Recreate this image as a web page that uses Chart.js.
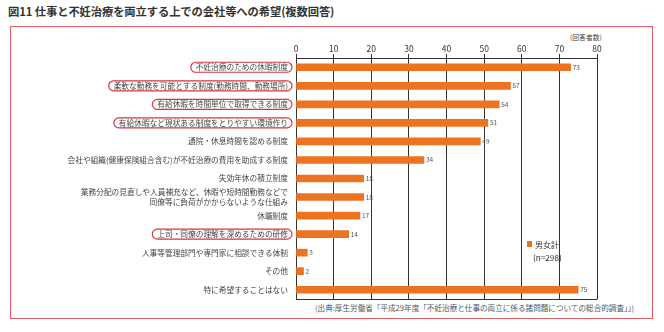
<!DOCTYPE html>
<html><head><meta charset="utf-8">
<script src="https://cdn.jsdelivr.net/npm/chart.js@4"></script>
<style>
html,body{margin:0;padding:0;background:#fff;}
#wrap{position:relative;width:664px;height:332px;overflow:hidden;font-family:"Noto Sans CJK JP","Noto Sans",sans-serif;}
#title{position:absolute;left:8px;top:3px;font-size:11.3px;font-weight:bold;color:#333;white-space:nowrap;letter-spacing:-0.1px;}
#frame{position:absolute;left:10px;top:26px;width:643px;height:293px;border:1.5px solid #E25C66;box-sizing:border-box;}
#src{position:absolute;left:315px;top:302px;font-size:7.6px;color:#555;white-space:nowrap;}
#unit{position:absolute;left:570px;top:32px;font-size:6.8px;color:#444;white-space:nowrap;}
canvas{position:absolute;left:0;top:0;}
</style></head>
<body><div id="wrap">
<div id="title">図11 仕事と不妊治療を両立する上での会社等への希望(複数回答)</div>
<div id="frame"></div>
<div id="unit">(回答者数)</div>
<div id="src">(出典:厚生労働省「平成29年度「不妊治療と仕事の両立に係る諸問題についての総合的調査」」)</div>
<canvas id="c" width="664" height="332"></canvas>
</div>
<script>
const categories = [
  "不妊治療のための休暇制度",
  "柔軟な勤務を可能とする制度(勤務時間、勤務場所)",
  "有給休暇を時間単位で取得できる制度",
  "有給休暇など現状ある制度をとりやすい環境作り",
  "通院・休息時間を認める制度",
  "会社や組織(健康保険組合含む)が不妊治療の費用を助成する制度",
  "失効年休の積立制度",
  ["業務分配の見直しや人員補充など、休暇や短時間勤務などで", "同僚等に負荷がかからないような仕組み"],
  "休職制度",
  "上司・同僚の理解を深めるための研修",
  "人事等管理部門や専門家に相談できる体制",
  "その他",
  "特に希望することはない"
];
const totalValues = [73, 57, 54, 51, 49, 34, 18, 18, 17, 14, 3, 2, 75];
const circledIndexes = [0, 1, 2, 3, 9];
const seriesName = "男女計";
const sampleNote = "(n=298)";
const xTicks = [0, 10, 20, 30, 40, 50, 60, 70, 80];

const FONT = '"Noto Sans CJK JP","Noto Sans",sans-serif';
const BAR = '#EE7321';

const extras = {
  id: 'extras',
  afterDraw(chart) {
    const ctx = chart.ctx, ca = chart.chartArea, ys = chart.scales.y;
    ctx.save();
    // bottom frame line
    ctx.strokeStyle = '#333'; ctx.lineWidth = 1;
    ctx.beginPath(); ctx.moveTo(ca.left, Math.round(ca.bottom) + 0.5); ctx.lineTo(ca.right + 0.5, Math.round(ca.bottom) + 0.5); ctx.stroke();
    // value labels
    const meta = chart.getDatasetMeta(0);
    ctx.font = '6.5px ' + FONT; ctx.fillStyle = '#555'; ctx.textBaseline = 'middle'; ctx.textAlign = 'left';
    meta.data.forEach((el, i) => { ctx.fillText(String(totalValues[i]), el.x + 2, el.y); });
    // circled labels
    ctx.font = '7.7px ' + FONT;
    ctx.strokeStyle = '#D8333F'; ctx.lineWidth = 1.2;
    const rightX = ys.right - 8;
    circledIndexes.forEach(i => {
      const lbl = categories[i];
      const w = ctx.measureText(Array.isArray(lbl) ? lbl[0] : lbl).width;
      const cy = ys.getPixelForValue(i);
      const x0 = rightX - w - 5, x1 = rightX + 4, h = 10, r = 5;
      ctx.beginPath();
      ctx.roundRect(x0, cy - h / 2, x1 - x0, h, r);
      ctx.stroke();
    });
    // legend
    ctx.fillStyle = BAR;
    ctx.fillRect(527, 241, 5, 6);
    ctx.fillStyle = '#333'; ctx.font = '8px ' + FONT; ctx.textBaseline = 'middle';
    ctx.fillText(seriesName, 535, 244.5);
    ctx.font = '8.2px ' + FONT;
    ctx.fillText(sampleNote, 533, 258);
    ctx.restore();
  }
};

new Chart(document.getElementById('c'), {
  type: 'bar',
  data: {
    labels: categories,
    datasets: [{ label: seriesName, data: totalValues, backgroundColor: BAR, barThickness: 7 }]
  },
  options: {
    indexAxis: 'y',
    responsive: false,
    animation: false,
    devicePixelRatio: 1,
    layout: { padding: { left: 0, top: 40, right: 67, bottom: 33 } },
    plugins: { legend: { display: false }, tooltip: { enabled: false } },
    scales: {
      x: {
        position: 'top', min: 0, max: 80,
        afterBuildTicks(s) { s.ticks = xTicks.map(v => ({ value: v })); },
        afterFit(s) { s.height = 18; },
        grid: { color: '#333', lineWidth: 1, tickLength: 4, drawTicks: true, tickColor: '#333' },
        border: { display: true, color: '#333', width: 1 },
        ticks: { font: { family: FONT, size: 8.5 }, color: '#333', padding: 0, maxRotation: 0 }
      },
      y: {
        afterFit(s) { s.width = 296; },
        grid: { display: false, drawTicks: false },
        border: { display: false },
        ticks: { font: { family: FONT, size: 7.7, lineHeight: 1.25 }, color: '#444', padding: 8, autoSkip: false }
      }
    }
  },
  plugins: [extras]
});
</script>
</body></html>
